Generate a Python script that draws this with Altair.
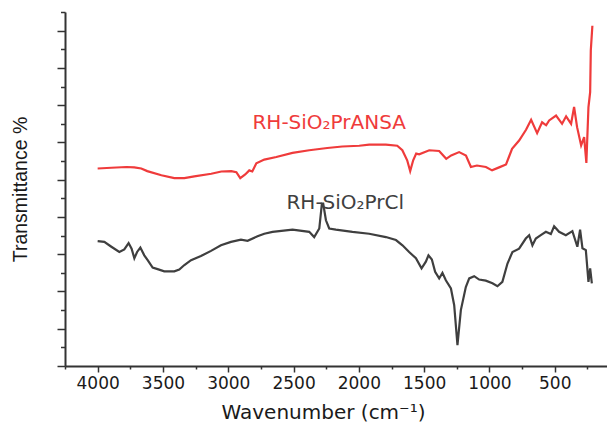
import altair as alt
import pandas as pd

# ---- data ----
red_wn = [4000, 3895, 3780, 3719, 3666, 3620, 3512, 3413, 3336, 3260, 3130, 3053, 2977, 2938,
          2908, 2870, 2839, 2816, 2785, 2724, 2632, 2508, 2380, 2242, 2127, 1997, 1921, 1793,
          1706, 1667, 1630, 1607, 1584, 1561, 1538, 1461, 1385, 1331, 1293, 1232, 1180, 1142,
          1096, 1027, 980, 926, 873, 827, 773, 720, 681, 635, 597, 566, 543, 490, 444, 413,
          375, 352, 329, 298, 275, 258, 242, 229, 224, 212]
red_val = [53.0, 53.2, 53.4, 53.3, 53.0, 52.3, 51.2, 50.4, 50.4, 50.9, 51.6, 52.2, 52.3, 52.0,
           50.4, 51.4, 52.5, 52.2, 54.4, 55.4, 56.1, 57.2, 57.9, 58.5, 58.9, 59.1, 59.4, 59.4,
           59.1, 57.9, 55.2, 52.3, 55.2, 57.0, 56.8, 57.9, 57.7, 55.6, 56.5, 57.4, 56.5, 53.4,
           53.8, 53.4, 52.5, 53.3, 54.1, 58.3, 60.5, 63.4, 66.1, 62.5, 65.4, 64.6, 65.9, 67.2,
           65.0, 67.0, 65.0, 69.5, 64.1, 59.2, 61.4, 54.5, 69.5, 73.5, 84.7, 91.3]

blk_wn = [4000, 3949, 3895, 3834, 3796, 3763, 3740, 3719, 3698, 3673, 3643, 3617, 3579, 3541,
          3490, 3413, 3375, 3336, 3285, 3209, 3132, 3056, 2979, 2903, 2852, 2776, 2724, 2661,
          2508, 2380, 2342, 2303, 2283, 2273, 2252, 2227, 2176, 2049, 1921, 1793, 1716, 1666,
          1615, 1563, 1520, 1487, 1467, 1441, 1416, 1385, 1360, 1334, 1295, 1270, 1245, 1219,
          1181, 1155, 1117, 1079, 1028, 977, 939, 901, 862, 824, 773, 722, 696, 671, 645, 607,
          568, 530, 505, 467, 415, 365, 327, 306, 288, 262, 242, 229, 216]
blk_val = [33.5, 33.3, 32.0, 30.6, 31.3, 33.0, 31.5, 28.9, 30.6, 31.8, 29.7, 28.4, 26.4, 26.0,
           25.4, 25.4, 25.9, 27.1, 28.4, 29.5, 30.9, 32.4, 33.3, 33.9, 33.6, 34.8, 35.5, 36.0,
           36.6, 36.0, 34.6, 36.9, 43.6, 43.6, 39.1, 36.9, 36.6, 36.0, 35.5, 34.6, 33.8, 32.4,
           30.6, 28.9, 26.2, 28.0, 29.7, 28.6, 25.3, 23.5, 25.0, 23.0, 20.8, 16.3, 5.6, 15.0,
           21.2, 23.5, 24.1, 23.2, 22.9, 22.2, 21.4, 22.6, 27.5, 30.6, 31.5, 34.2, 35.1, 32.4,
           34.2, 35.1, 36.0, 35.4, 37.5, 36.0, 35.1, 36.2, 32.0, 36.6, 31.6, 31.1, 22.6, 26.2,
           22.2]

series_names = ["RH-SiO2PrANSA", "RH-SiO2PrCl"]
series_colors = ["#ef3b3b", "#3f3f3f"]

x_major = [4000, 3500, 3000, 2500, 2000, 1500, 1000, 500]
x_minor = [4250, 3750, 3250, 2750, 2250, 1750, 1250, 750, 250]
y_major = [0, 10, 20, 30, 40, 50, 60, 70, 80, 90]
y_minor = [5, 15, 25, 35, 45, 55, 65, 75, 85, 95]

label_text = ["RH-SiO₂PrANSA", "RH-SiO₂PrCl"]
label_wn = [2227, 2104]
label_val = [65.3, 43.7]

# ---- tables ----
df = pd.concat([
    pd.DataFrame({"wn": red_wn, "val": red_val, "s": series_names[0]}),
    pd.DataFrame({"wn": blk_wn, "val": blk_val, "s": series_names[1]}),
])
lab = pd.DataFrame({"wn": label_wn, "val": label_val, "t": label_text, "s": series_names})

FONT = "DejaVu Sans"
xscale = alt.Scale(domain=[100, 4250], reverse=True, nice=False, zero=False)
yscale = alt.Scale(domain=[0, 95], nice=False, zero=False)
cscale = alt.Scale(domain=series_names, range=series_colors)

lines = alt.Chart(df).mark_line(strokeWidth=2.2).encode(
    x=alt.X("wn:Q", scale=xscale, axis=alt.Axis(
        values=x_major, tickSize=6, tickWidth=1.5, domainWidth=2, format="d",
        labelFont=FONT, labelFontSize=17, labelColor="#1a1a1a", labelPadding=3,
        title="Wavenumber (cm⁻¹)", titleFont=FONT, titleFontSize=20, titleFontWeight="normal",
        titleColor="#1a1a1a", titleX=258, titleY=46, titleBaseline="middle",
        domainColor="#333333", tickColor="#333333", grid=False, orient="bottom")),
    y=alt.Y("val:Q", scale=yscale, axis=alt.Axis(
        values=y_major, tickSize=8, tickWidth=1.5, domainWidth=2, labels=False,
        title="Transmittance %", titleFont="Liberation Sans", titleFontSize=19.5,
        titleFontWeight="normal",
        titleColor="#1a1a1a", titleAngle=-90, titleX=-45, titleY=177,
        titleAlign="center", titleBaseline="middle",
        domainColor="#333333", tickColor="#333333", grid=False, orient="left")),
    color=alt.Color("s:N", scale=cscale, legend=None),
    detail="s:N",
)

minor = alt.Chart(df).mark_line(strokeOpacity=0).encode(
    x=alt.X("wn:Q", scale=xscale, axis=alt.Axis(
        values=x_minor, tickSize=3, tickWidth=1.5, labels=False, domain=False,
        title=None, tickColor="#333333", grid=False, orient="bottom")),
    y=alt.Y("val:Q", scale=yscale, axis=alt.Axis(
        values=y_minor, tickSize=4.5, tickWidth=1.5, labels=False, domain=False,
        title=None, tickColor="#333333", grid=False, orient="left")),
    detail="s:N",
)

texts = alt.Chart(lab).mark_text(font=FONT, fontSize=20, align="center", baseline="middle").encode(
    x=alt.X("wn:Q", scale=xscale, axis=None),
    y=alt.Y("val:Q", scale=yscale, axis=None),
    text="t:N",
    color=alt.Color("s:N", scale=cscale, legend=None),
)

chart = alt.layer(lines, minor, texts).resolve_axis(x="independent", y="independent").properties(
    width=542, height=354,
    autosize=alt.AutoSizeParams(type="none"),
    padding={"left": 65, "top": 12, "right": 0, "bottom": 56},
    background="white",
).configure_view(stroke=None)

chart.save("out.html", embed_options={"renderer": "svg", "actions": False})
